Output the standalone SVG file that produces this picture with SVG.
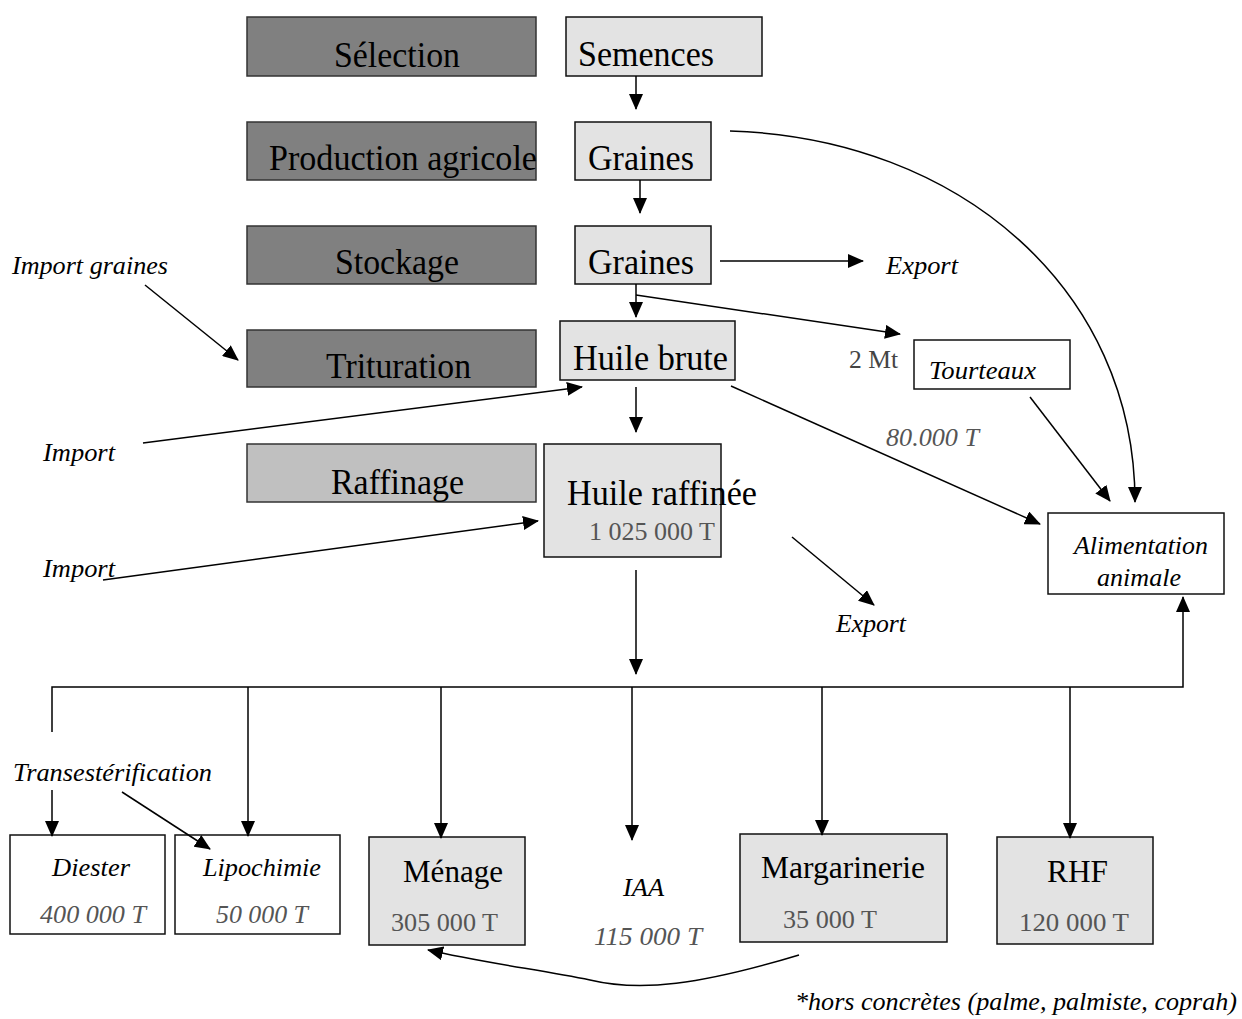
<svg xmlns="http://www.w3.org/2000/svg" width="1242" height="1019" viewBox="0 0 1242 1019">
<defs>
<marker id="ah" markerWidth="16" markerHeight="14" refX="15" refY="7" orient="auto" markerUnits="userSpaceOnUse">
<path d="M0,0 L16,7 L0,14 Z" fill="#000"/>
</marker>
<style>
.dark{fill:#808080;stroke:#333;stroke-width:1.5}
.mid{fill:#c0c0c0;stroke:#333;stroke-width:1.5}
.light{fill:#e3e3e3;stroke:#111;stroke-width:1.5}
.white{fill:#fff;stroke:#111;stroke-width:1.5}
.t{font-family:"Liberation Serif","Times New Roman",serif;fill:#000}
.big{font-size:36px}
.med{font-size:32px}
.it{font-style:italic;font-size:26px}
.num{font-size:26px;fill:#555}
.gray{fill:#555}
.c{stroke:#000;stroke-width:1.5;fill:none}
.a{marker-end:url(#ah)}
</style>
</defs>
<rect width="1242" height="1019" fill="#fff"/>

<g id="selection"><rect class="dark" x="247" y="17" width="289" height="59"/><text class="t big" x="334" y="67" textLength="126" lengthAdjust="spacingAndGlyphs">Sélection</text></g>
<g id="semences"><rect class="light" x="566" y="17" width="196" height="59"/><text class="t big" x="578" y="66" textLength="136" lengthAdjust="spacingAndGlyphs">Semences</text></g>
<g id="production"><rect class="dark" x="247" y="122" width="289" height="58"/><text class="t big" x="269" y="170" textLength="268" lengthAdjust="spacingAndGlyphs">Production agricole</text></g>
<g id="graines1"><rect class="light" x="575" y="122" width="136" height="58"/><text class="t big" x="588" y="170" textLength="106" lengthAdjust="spacingAndGlyphs">Graines</text></g>
<g id="stockage"><rect class="dark" x="247" y="226" width="289" height="58"/><text class="t big" x="335" y="274" textLength="124" lengthAdjust="spacingAndGlyphs">Stockage</text></g>
<g id="graines2"><rect class="light" x="575" y="226" width="136" height="58"/><text class="t big" x="588" y="274" textLength="106" lengthAdjust="spacingAndGlyphs">Graines</text></g>
<g id="export1"><text class="t it" x="886" y="274" textLength="72" lengthAdjust="spacingAndGlyphs">Export</text></g>
<g id="import-graines"><text class="t it" x="12" y="274" textLength="156" lengthAdjust="spacingAndGlyphs">Import graines</text></g>
<g id="trituration"><rect class="dark" x="247" y="330" width="289" height="57"/><text class="t big" x="326" y="378" textLength="145" lengthAdjust="spacingAndGlyphs">Trituration</text></g>
<g id="huile-brute"><rect class="light" x="560" y="321" width="175" height="59"/><text class="t big" x="573" y="370" textLength="155" lengthAdjust="spacingAndGlyphs">Huile brute</text></g>
<g id="deux-mt"><text class="t num" x="849" y="368" style="fill:#444" textLength="49" lengthAdjust="spacingAndGlyphs">2 Mt</text></g>
<g id="tourteaux"><rect class="white" x="914" y="340" width="156" height="49"/><text class="t it" x="929" y="379" textLength="107" lengthAdjust="spacingAndGlyphs">Tourteaux</text></g>
<g id="import1"><text class="t it" x="43" y="461" textLength="72" lengthAdjust="spacingAndGlyphs">Import</text></g>
<g id="quatre-vingt"><text class="t it gray" x="886" y="446" textLength="93" lengthAdjust="spacingAndGlyphs">80.000 T</text></g>
<g id="raffinage"><rect class="mid" x="247" y="444" width="289" height="58"/><text class="t big" x="331" y="494" textLength="133" lengthAdjust="spacingAndGlyphs">Raffinage</text></g>
<g id="huile-raffinee"><rect class="light" x="544" y="444" width="177" height="113"/><text class="t big" x="567" y="505" textLength="190" lengthAdjust="spacingAndGlyphs">Huile raffinée</text><text class="t num" x="589" y="540" textLength="126" lengthAdjust="spacingAndGlyphs">1 025 000 T</text></g>
<g id="alimentation"><rect class="white" x="1048" y="513" width="176" height="81"/><text class="t it" x="1074" y="554" textLength="134" lengthAdjust="spacingAndGlyphs">Alimentation</text><text class="t it" x="1097" y="586" textLength="84" lengthAdjust="spacingAndGlyphs">animale</text></g>
<g id="import2"><text class="t it" x="43" y="577" textLength="72" lengthAdjust="spacingAndGlyphs">Import</text></g>
<g id="export2"><text class="t it" x="836" y="632" textLength="70" lengthAdjust="spacingAndGlyphs">Export</text></g>
<g id="transesterification"><text class="t it" x="13" y="781" textLength="199" lengthAdjust="spacingAndGlyphs">Transestérification</text></g>
<g id="diester"><rect class="white" x="10" y="835" width="155" height="99"/><text class="t it" x="52" y="876" textLength="78" lengthAdjust="spacingAndGlyphs">Diester</text><text class="t it gray" x="40" y="923" textLength="106" lengthAdjust="spacingAndGlyphs">400 000 T</text></g>
<g id="lipochimie"><rect class="white" x="175" y="835" width="165" height="99"/><text class="t it" x="203" y="876" textLength="118" lengthAdjust="spacingAndGlyphs">Lipochimie</text><text class="t it gray" x="216" y="923" textLength="92" lengthAdjust="spacingAndGlyphs">50 000 T</text></g>
<g id="menage"><rect class="light" x="369" y="837" width="156" height="108"/><text class="t med" x="403" y="882" textLength="100" lengthAdjust="spacingAndGlyphs">Ménage</text><text class="t num" x="391" y="931" textLength="107" lengthAdjust="spacingAndGlyphs">305 000 T</text></g>
<g id="iaa"><text class="t it" x="623" y="896" textLength="41" lengthAdjust="spacingAndGlyphs">IAA</text><text class="t it gray" x="594" y="945" textLength="108" lengthAdjust="spacingAndGlyphs">115 000 T</text></g>
<g id="margarinerie"><rect class="light" x="740" y="834" width="207" height="108"/><text class="t med" x="761" y="878" textLength="164" lengthAdjust="spacingAndGlyphs">Margarinerie</text><text class="t num" x="783" y="928" textLength="94" lengthAdjust="spacingAndGlyphs">35 000 T</text></g>
<g id="rhf"><rect class="light" x="997" y="837" width="156" height="107"/><text class="t med" x="1047" y="882" textLength="61" lengthAdjust="spacingAndGlyphs">RHF</text><text class="t num" x="1019" y="931" textLength="110" lengthAdjust="spacingAndGlyphs">120 000 T</text></g>
<g id="footnote"><text class="t it" x="795" y="1010" textLength="442" lengthAdjust="spacingAndGlyphs">*hors concrètes (palme, palmiste, coprah)</text></g>

<g id="connectors">
<line class="c a" x1="636" y1="76" x2="636" y2="109"/>
<line class="c a" x1="640" y1="180" x2="640" y2="213"/>
<line class="c a" x1="720" y1="261" x2="863" y2="261"/>
<line class="c a" x1="636" y1="284" x2="636" y2="317"/>
<line class="c a" x1="636" y1="295" x2="900" y2="334"/>
<line class="c a" x1="145" y1="285" x2="238" y2="360"/>
<line class="c a" x1="143" y1="443" x2="582" y2="387"/>
<line class="c a" x1="636" y1="387" x2="636" y2="432"/>
<line class="c a" x1="731" y1="386" x2="1040" y2="524"/>
<line class="c a" x1="1030" y1="397" x2="1110" y2="501"/>
<path class="c a" d="M730,131 C960,138 1135,290 1135,502"/>
<line class="c a" x1="103" y1="580" x2="538" y2="521"/>
<line class="c a" x1="792" y1="537" x2="874" y2="605"/>
<line class="c a" x1="636" y1="570" x2="636" y2="674"/>
<polyline class="c a" points="52,732 52,687 1183,687 1183,597"/>
<line class="c a" x1="52" y1="790" x2="52" y2="836"/>
<line class="c a" x1="122" y1="792" x2="210" y2="849"/>
<line class="c a" x1="248" y1="687" x2="248" y2="836"/>
<line class="c a" x1="441" y1="687" x2="441" y2="838"/>
<line class="c a" x1="632" y1="687" x2="632" y2="840"/>
<line class="c a" x1="822" y1="687" x2="822" y2="835"/>
<line class="c a" x1="1070" y1="687" x2="1070" y2="838"/>
<path class="c a" d="M799,955 C700,985 640,992 590,980 C540,970 480,962 428,950"/>
</g>
</svg>
